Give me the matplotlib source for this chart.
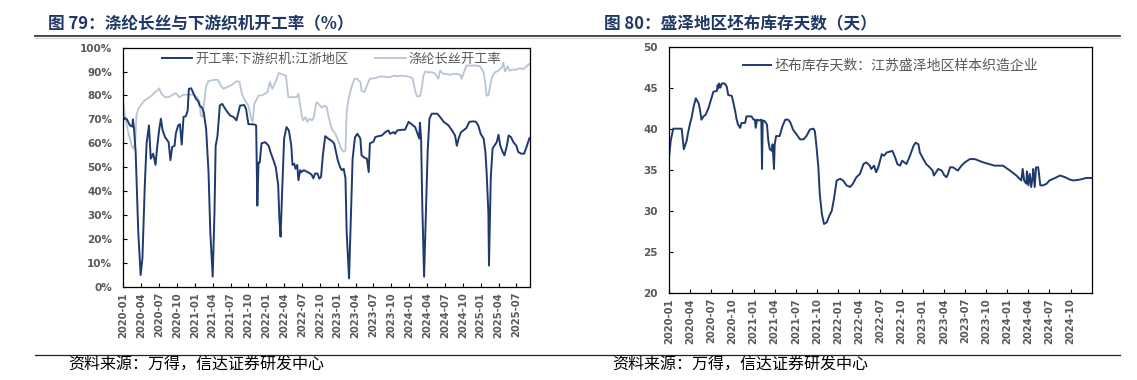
import matplotlib
matplotlib.use('Agg')
import matplotlib.pyplot as plt
from matplotlib.lines import Line2D
from matplotlib.font_manager import FontProperties

plt.rcParams['font.family'] = ['DejaVu Sans', 'Noto Sans CJK SC']

CJK = ['Noto Sans CJK SC', 'DejaVu Sans']
DARK = '#1f3a6e'
LIGHT = '#b9c4d7'
TICK_GRAY = '#595959'
TITLE_BLUE = '#1f3864'

# ---- Figure 79: loom operating rate (x = months since 2020-01) ----
loom_x = [0, 0.6, 1.1, 1.5, 1.6, 1.8, 2.07, 2.5, 2.9, 3.2, 3.6, 3.9, 4.3, 4.6, 5.0, 5.4,
          5.7, 6.0, 6.3, 6.6, 7.0, 7.6, 7.9, 8.2, 8.6, 8.8, 9.2, 9.5, 9.8, 10.1, 10.5,
          10.8, 11.0, 11.4, 11.8, 12.2, 12.6, 12.8, 13.2, 13.5, 13.9, 14.3, 14.6, 15.0,
          15.3, 15.5, 15.8, 16.2, 16.6, 17.1, 17.5, 17.9, 18.5, 19.0, 19.6, 20.3, 20.6,
          21.0, 21.6, 22.1, 22.3, 22.5, 22.7, 22.9, 23.2, 23.8, 24.4, 24.7, 25.2, 25.6,
          26.0, 26.2, 26.4, 26.7, 27.0, 27.4, 27.8, 28.2, 28.4, 28.7, 28.9, 29.2, 29.4,
          29.7, 29.9, 30.3, 31.1, 31.6, 31.9, 32.2, 32.6, 32.9, 33.2, 33.5, 33.9, 34.4,
          35.0, 35.4, 35.7, 36.0, 36.4, 36.7, 37.0, 37.3, 37.5, 37.9, 38.2, 38.5, 38.9,
          39.3, 39.8, 40.0, 40.5, 40.9, 41.2, 41.4, 42.0, 42.3, 42.8, 43.4, 44.0, 44.5,
          44.8, 45.4, 45.6, 46.0, 46.8, 47.3, 47.9, 48.4, 49.0, 49.4, 49.7, 49.8, 50.0,
          50.2, 50.5, 50.8, 51.1, 51.4, 51.8, 52.7, 53.2, 53.8, 54.6, 55.2, 55.7, 56.0,
          56.3, 56.7, 57.1, 57.6, 58.1, 58.8, 59.2, 59.6, 60.0, 60.5, 60.8, 61.0, 61.3,
          61.4, 61.7, 62.0, 62.3, 62.7, 63.0, 63.3, 63.7, 64.0, 64.4, 64.7, 65.1, 65.5,
          66.0, 66.3, 66.8, 67.3, 67.7, 68.2]
loom_rate = [71, 70, 67.5, 67, 70, 66, 56, 23, 5, 12, 42.5, 60, 67.5, 53.6, 55.7, 51,
             59, 65.4, 70.3, 65.4, 62.6, 60.5, 53, 58.5, 59, 64, 67.5, 68, 59.5, 71, 71.4,
             73.8, 82.8, 83, 80.7, 78.6, 77.5, 75.8, 75, 73, 66, 48, 23, 4.3,
             31, 59, 63, 75.8, 76.5, 74.4, 73, 71.7, 71, 69.6, 75.8, 76, 74.4,
             68, 68, 67.8, 67.5, 34, 52, 52, 60, 60.5, 59, 56.4, 53, 50,
             42.5, 28.6, 21, 42.5, 62, 66.8, 65.4, 59, 51, 51.5, 49.4, 51, 44.6,
             48.8, 48, 48.8, 47.8, 47, 45.4, 47.4, 47.4, 45.3, 46, 55, 63, 62,
             61, 60, 56.4, 53, 50, 48.8, 49.4, 45.4, 23, 3.6, 28.6, 53.6, 62.6,
             64, 62, 55, 54, 53.6, 48, 60, 60.7, 62.6, 63, 63.3, 64.7, 65.4,
             64, 64.7, 64, 65.4, 65.7, 65.7, 69, 68, 66.8, 64, 62, 68.6, 62,
             34, 4.3, 31, 56.4, 70.3, 72.4, 72.4, 71, 69, 67.5, 65.4, 63.3, 59,
             62, 64.7, 65.4, 66.4, 69, 69.2, 69, 67.5, 64, 62, 56.4, 48, 31,
             9, 45.4, 57.8, 59, 60.5, 63.6, 59, 56.4, 55, 59, 63.3, 62.6, 60.5,
             59, 56.4, 55.7, 55.7, 58.5, 62.2]

# ---- Figure 79: polyester filament operating rate ----
fil_x = [0, 0.3, 0.8, 1.4, 1.7, 2.0, 2.2, 2.5, 3.1, 3.6, 4.2, 4.8, 5.3, 5.7, 6.0, 6.4,
         7.0, 7.6, 8.1, 8.8, 9.4, 10.1, 10.6, 11.5, 12.0, 12.4, 12.8, 13.0, 13.3, 13.5,
         13.9, 14.3, 15.1, 15.9, 16.4, 16.8, 17.4, 18.2, 19.0, 19.5, 19.9, 20.4, 21.0,
         21.4, 21.7, 22.0, 22.7, 23.2, 23.8, 24.2, 24.6, 25.0, 25.6, 26.1, 26.9, 27.3,
         27.7, 28.5, 29.1, 29.4, 29.7, 30.0, 30.2, 30.6, 30.9, 31.3, 31.7, 32.0, 32.4,
         32.8, 33.3, 33.9, 34.2, 34.4, 35.0, 35.6, 36.1, 36.6, 37.0, 37.3, 37.5, 37.8,
         38.4, 38.8, 39.2, 39.8, 40.0, 40.5, 40.9, 41.4, 42.3, 42.8, 43.4, 44.2, 44.8,
         45.4, 46.0, 46.8, 47.7, 48.2, 48.6, 49.0, 49.3, 49.8, 50.1, 50.4, 50.7, 51.2,
         51.8, 52.4, 52.9, 53.2, 53.8, 54.3, 54.9, 55.4, 56.0, 56.6, 56.8, 57.1, 57.6,
         58.5, 59.2, 59.9, 60.5, 60.8, 61.0, 61.3, 61.6, 61.9, 62.4, 63.0, 63.6, 63.8,
         64.1, 64.5, 64.9, 65.5, 66.0, 66.6, 67.2, 67.7, 68.2]
fil_rate = [77, 71, 64.7, 59, 57.8, 60.5, 71.7, 74.4, 76.5, 78, 79, 80, 81.4, 82, 83, 80.7,
            79.3, 79.3, 80, 81, 79.3, 80.3, 80.3, 80.4, 80, 79.3, 77, 71.7, 71, 75.8,
            84, 86, 86.5, 86.5, 84, 82.8, 83.5, 84.4, 86, 85.7, 80.7, 78, 75.8,
            71, 69, 76.5, 80, 80, 80.7, 81.4, 85.6, 82.8, 85.8, 89.4, 88.6, 88.3,
            79.3, 79.3, 79.3, 80.7, 75.8, 71, 69.6, 71, 69, 70.3, 69.6, 71, 77.2,
            76.5, 75, 75.8, 75, 71.7, 66, 64, 61, 57.6, 56.5, 57, 73, 78.6,
            84.2, 87, 87, 85.6, 82, 81.4, 84.2, 87, 87.2, 87.7, 88, 87.7, 87.7,
            88.3, 88, 88.3, 88, 87.7, 87, 82, 79.7, 79.7, 82.8, 88.3, 90, 89.7,
            89.7, 89, 87, 90.4, 89, 89, 88.6, 89, 89, 88.6, 87, 89, 92.5,
            92.5, 92.5, 92.2, 89.7, 84.7, 80, 80, 84, 87.7, 89.7, 90.4, 91.8, 93.8,
            90, 92.2, 90.4, 90.8, 90.8, 91.4, 91, 92.2, 93.2]

left_ticks = ['2020-01', '2020-04', '2020-07', '2020-10', '2021-01', '2021-04', '2021-07',
              '2021-10', '2022-01', '2022-04', '2022-07', '2022-10', '2023-01', '2023-04',
              '2023-07', '2023-10', '2024-01', '2024-04', '2024-07', '2024-10', '2025-01',
              '2025-04', '2025-07']

# ---- Figure 80: grey fabric inventory days, Shengze ----
inv_x = [0, 0.24, 0.6, 1.8, 2.1, 2.5, 2.7, 3.0, 3.2, 3.5, 3.8, 4.2, 4.4, 4.6, 4.9, 5.2,
         5.6, 6.1, 6.3, 6.8, 6.9, 7.0, 7.1, 7.3, 7.5, 7.9, 8.2, 8.4, 8.9, 9.1, 9.4, 9.6,
         9.8, 10.1, 10.3, 10.8, 11.0, 11.7, 12.0, 12.2, 12.3, 12.5, 12.8, 13.1, 13.2,
         13.3, 13.6, 13.9, 14.1, 14.3, 14.6, 14.7, 14.9, 15.0, 15.2, 15.7, 16.1, 16.5,
         16.9, 17.2, 17.6, 18.1, 18.6, 19.1, 19.5, 20.0, 20.5, 20.7, 20.9, 21.2, 21.4,
         21.7, 22.0, 22.4, 22.7, 23.1, 23.4, 23.8, 24.3, 24.7, 25.2, 25.7, 26.1, 26.6,
         27.1, 27.6, 28.0, 28.5, 28.7, 29.1, 29.4, 29.7, 30.2, 30.5, 30.9, 31.3, 31.7,
         32.1, 32.4, 32.8, 33.1, 33.7, 34.2, 34.7, 35.0, 35.4, 35.6, 36.1, 36.5, 37.0,
         37.4, 37.6, 37.9, 38.2, 38.7, 39.1, 39.4, 39.6, 39.9, 40.3, 41.0, 41.5, 42.0,
         42.7, 43.4, 44.6, 45.8, 46.2, 47.4, 48.4, 49.3, 50.0, 50.2, 50.4, 50.7, 50.8,
         51.0, 51.2, 51.4, 51.6, 51.7, 51.9, 52.1, 52.4, 52.7, 53.1, 53.6, 54.0, 54.8,
         55.5, 56.2, 56.9, 57.4, 58.3, 59.2, 60.0]
inv_days = [36.5, 38.5, 40, 40, 37.5, 38.5, 39.5, 40.7, 41.3, 42.7, 43.7, 43.1, 42.3, 41.1,
            41.5, 41.7, 42.5, 43.9, 44.5, 44.6, 45.3, 44.9, 45.5, 45.0, 45.5, 45.5, 45.1,
            44.1, 44, 43.3, 42.1, 41.1, 40.5, 40.1, 40.7, 40.7, 41.5, 41.5, 41.1, 41.1,
            40.1, 41.1, 41, 41.1, 35.1, 41, 40.9, 40.5, 38.5, 37.5, 37.3, 38.1, 35.1,
            38.1, 39.1, 39.1, 40.3, 41.1, 41.1, 40.8, 39.9, 39.3, 38.7, 38.7, 39.1, 39.9,
            40, 39.7, 38.1, 35.3, 32, 29.6, 28.4, 28.6, 29.3, 30, 31.4, 33.7, 33.9, 33.7,
            33.1, 32.9, 33.3, 34.1, 34.5, 35.7, 35.9, 35.5, 35.1, 35.5, 34.7, 35.3, 36.9,
            36.7, 37.1, 37.2, 37.3, 36.5, 35.7, 35.5, 36.1, 35.7, 36.7, 37.9, 38.3, 38.1,
            37.1, 36.3, 35.7, 35.3, 34.9, 34.3, 34.7, 35.1, 34.9, 34.3, 34.1, 34.5, 35.3,
            35.3, 34.9, 35.5, 35.9, 36.3, 36.3, 35.9, 35.6, 35.5, 35.5, 34.9, 34.3, 33.7,
            35.1, 33.7, 33.3, 34.8, 33.1, 34.5, 32.9, 34.1, 35.1, 32.9, 35.3, 35.3, 33.1,
            33.1, 33.3, 33.7, 34.0, 34.3, 34.1, 33.8, 33.7, 33.8, 34.0, 34.0]

right_ticks = ['2020-01', '2020-04', '2020-07', '2020-10', '2021-01', '2021-04', '2021-07',
               '2021-10', '2022-01', '2022-04', '2022-07', '2022-10', '2023-01', '2023-04',
               '2023-07', '2023-10', '2024-01', '2024-04', '2024-07', '2024-10']


def style_axes(ax, ticklabels):
    ax.set_xticks([3 * i for i in range(len(ticklabels))])
    ax.set_xticklabels(ticklabels, rotation=90, fontsize=7.2, fontweight='bold', color=TICK_GRAY)
    ax.tick_params(axis='both', direction='in', length=3, width=0.8, color='black')
    ax.tick_params(axis='y', labelsize=7.5, labelcolor=TICK_GRAY, pad=8)
    for lab in ax.get_yticklabels():
        lab.set_fontweight('bold')
    for sp in ax.spines.values():
        sp.set_linewidth(0.9)
        sp.set_color('black')


fig = plt.figure(figsize=(11.37, 3.80), dpi=100)

# Left chart
ax1 = fig.add_axes([0.1085, 0.2447, 0.3577, 0.630])
ax1.plot(fil_x, fil_rate, color=LIGHT, lw=1.3, label='涤纶长丝开工率', zorder=2)
ax1.plot(loom_x, loom_rate, color=DARK, lw=1.4, label='开工率:下游织机:江浙地区', zorder=3)
ax1.set_xlim(0, 68.3)
ax1.set_ylim(0, 100)
ax1.set_yticks(range(0, 101, 10))
ax1.set_yticklabels([f'{v}%' for v in range(0, 101, 10)])
style_axes(ax1, left_ticks)
h, l = ax1.get_legend_handles_labels()
ax1.legend(h[::-1], l[::-1], loc='center left', bbox_to_anchor=(0.095, 0.951), ncol=2,
           frameon=False, borderpad=0, borderaxespad=0, handlelength=2.3, handletextpad=0.25,
           columnspacing=2.0, labelcolor=TICK_GRAY, prop=FontProperties(family=CJK, size=9.5))

# Right chart
ax2 = fig.add_axes([0.5884, 0.2289, 0.3718, 0.6487])
ax2.plot(inv_x, inv_days, color=DARK, lw=1.4, label='坯布库存天数：江苏盛泽地区样本织造企业')
ax2.set_xlim(0, 60)
ax2.set_ylim(20, 50)
ax2.set_yticks(range(20, 51, 5))
style_axes(ax2, right_ticks)
ax2.legend(loc='center left', bbox_to_anchor=(0.175, 0.922), frameon=False, borderpad=0,
           borderaxespad=0, handlelength=2.0, handletextpad=0.3, labelcolor=TICK_GRAY,
           prop=FontProperties(family=CJK, size=10))

# Titles, rules and source notes
W, H = 1137, 380
fig.text(48 / W, 1 - 24.5 / H, '图 79：涤纶长丝与下游织机开工率（%）', family=CJK,
         fontsize=12, fontweight='bold', color=TITLE_BLUE, va='center', ha='left')
fig.text(604 / W, 1 - 24.5 / H, '图 80：盛泽地区坯布库存天数（天）', family=CJK,
         fontsize=12, fontweight='bold', color=TITLE_BLUE, va='center', ha='left')
fig.add_artist(Line2D([35 / W, 1120 / W], [1 - 35.7 / H] * 2, color='#3a3a3a', lw=1.3))
fig.add_artist(Line2D([35 / W, 1120 / W], [1 - 37.9 / H] * 2, color='#cfcfcf', lw=0.8))
fig.add_artist(Line2D([35 / W, 1120 / W], [1 - 355 / H] * 2, color='#222222', lw=0.9))
fig.text(68 / W, 1 - 365 / H, '资料来源：万得，信达证券研发中心', family=CJK,
         fontsize=11.5, color='black', va='center', ha='left')
fig.text(612 / W, 1 - 365 / H, '资料来源：万得，信达证券研发中心', family=CJK,
         fontsize=11.5, color='black', va='center', ha='left')

fig.savefig('out.png', dpi=100)
